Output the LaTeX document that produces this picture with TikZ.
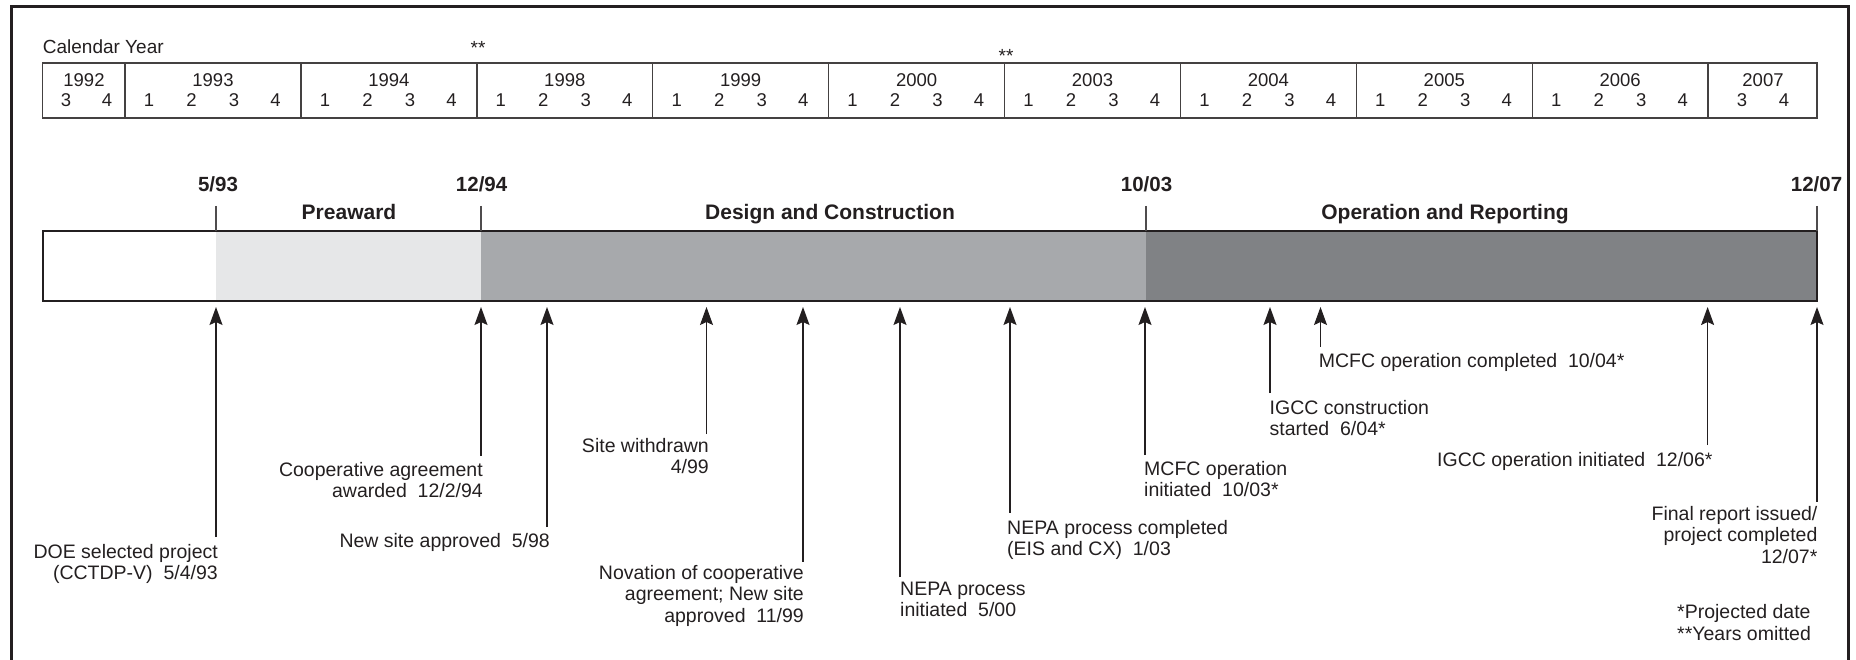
\documentclass[tikz,border=0pt]{standalone}
\usepackage{fontspec}
\setmainfont{Liberation Sans}
\usetikzlibrary{arrows.meta}
\definecolor{prefill}{HTML}{E6E7E8}
\definecolor{dcfill}{HTML}{A7A9AC}
\definecolor{opfill}{HTML}{808285}
\definecolor{ink}{HTML}{231F20}
\newcommand\lblfont{\fontsize{19.5}{21.5}\selectfont}
\newcommand\tabfont{\fontsize{18.5}{20}\selectfont}
\newcommand\astfont{\fontsize{19}{21}\selectfont}
\newcommand\phasefont{\fontsize{21}{24}\selectfont\bfseries}
\newcommand\datefont{\fontsize{20.5}{24}\selectfont\bfseries}
\begin{document}
\begin{tikzpicture}[x=1pt,y=-1pt,
  frameline/.style={line width=3pt, draw=ink},
  tablebox/.style={line width=1.4pt, draw=ink!85},
  tabtxt/.style={font=\tabfont, inner sep=0pt, text=ink},
  asttxt/.style={font=\astfont, inner sep=0pt, text=ink},
  barline/.style={line width=2.2pt, draw=ink},
  tickline/.style={line width=1.2pt, draw=ink!80},
  phase/.style={font=\phasefont, inner sep=0pt, anchor=base, text=ink},
  datelbl/.style={font=\datefont, inner sep=0pt, anchor=base, text=ink},
  lbl/.style={font=\lblfont, inner sep=0pt, text=ink},
  lblR/.style={lbl, align=right, anchor=north east},
  lblL/.style={lbl, align=left, anchor=north west},
  arr/.style={line width=1.2pt, draw=ink, -{Stealth[length=18pt,width=13pt,inset=3pt]}}
]
\useasboundingbox (0,0) rectangle (1856,660);
% outer frame
\draw[frameline] (11,660) -- (11,7) -- (1848,7) -- (1848,660);

% calendar table
\node[tabtxt, anchor=base west, font=\fontsize{19}{21}\selectfont] (cal) at (42.7,54) {Calendar Year};
\node[asttxt, anchor=base] (ast1) at (478,55) {**};
\node[asttxt, anchor=base] (ast2) at (1006,63) {**};
\draw[tablebox] (42.7,63) rectangle (1817,118);
\foreach \k in {0,...,9} \draw[tablebox] ({125+175.9*\k},63) -- ({125+175.9*\k},118);
\foreach \yr [count=\k from 0] in {1993,1994,1998,1999,2000,2003,2004,2005,2006} {
  \node[tabtxt, anchor=base] (yr\yr) at ({125+175.9*\k+88},86.6) {\yr};
  \foreach \q/\dx in {1/24,2/66.5,3/109,4/150.5}
    \node[tabtxt, anchor=base] (q\yr-\q) at ({125+175.9*\k+\dx},106.6) {\q};
}
\node[tabtxt, anchor=base] (yr1992) at (84,86.6) {1992};
\node[tabtxt, anchor=base] (q1992-3) at (66,106.6) {3};
\node[tabtxt, anchor=base] (q1992-4) at (107,106.6) {4};
\node[tabtxt, anchor=base] (yr2007) at (1763,86.6) {2007};
\node[tabtxt, anchor=base] (q2007-3) at (1742,106.6) {3};
\node[tabtxt, anchor=base] (q2007-4) at (1784,106.6) {4};

% phase bar
\fill[white] (42.7,230.7) rectangle (216,300.7);
\fill[prefill] (216,230.7) rectangle (481,300.7);
\fill[dcfill] (481,230.7) rectangle (1146,300.7);
\fill[opfill] (1146,230.7) rectangle (1817,300.7);
\draw[barline] (42.7,230.7) rectangle (1817,300.7);

% milestone ticks and labels
\foreach \x in {216,481,1146,1817} \draw[tickline] (\x,206) -- (\x,230.7);
\node[datelbl] (d593) at (218,192) {5/93};
\node[datelbl] (d1294) at (481.6,192) {12/94};
\node[datelbl] (d1003) at (1146.5,192) {10/03};
\node[datelbl] (d1207) at (1816.5,192) {12/07};
\node[phase] (preaward) at (349,219.5) {Preaward};
\node[phase] (design) at (830,219.5) {Design and Construction};
\node[phase] (operation) at (1445,219.5) {Operation and Reporting};

% event labels
\node[lblR] (e1) at (218,543) {\strut DOE selected project\\(CCTDP-V)~~5/4/93};
\node[lblR] (e2) at (483,461) {\strut Cooperative agreement\\awarded~~12/2/94};
\node[lbl, anchor=base east] (e3) at (550,547) {New site approved~~5/98};
\node[lblR] (e4) at (709,437) {\strut Site withdrawn\\4/99};
\node[lblR] (e5) at (804,564) {\strut Novation of cooperative\\agreement; New site\\approved~~11/99};
\node[lblL] (e6) at (900,580) {\strut NEPA process\\initiated~~5/00};
\node[lblL] (e7) at (1007,519) {\strut NEPA process completed\\(EIS and CX)~~1/03};
\node[lblL] (e8) at (1144,460) {\strut MCFC operation\\initiated~~10/03*};
\node[lblL] (e9) at (1269.5,399) {\strut IGCC construction\\started~~6/04*};
\node[lbl, anchor=base west] (e10) at (1318.6,367) {MCFC operation completed~~10/04*};
\node[lbl, anchor=base east] (e11) at (1712.7,466.7) {IGCC operation initiated~~12/06*};
\node[lblR] (e12) at (1817.6,505) {\strut Final report issued/\\project completed\\12/07*};
\node[lblL] (legend) at (1677,603.3) {\strut *Projected date\\**Years omitted};

% arrows
\foreach \i/\x/\yb in {1/216/537, 2/481/456, 3/547/527, 4/706.5/434, 5/803/561.7,
  6/900/577, 7/1010/512.7, 8/1145/455, 9/1270/393, 10/1320.5/347, 11/1707.6/445, 12/1817/501.7} {
  \coordinate (b\i) at (\x,\yb);
  \coordinate (t\i) at (\x,307);
  \draw[arr] (b\i) -- (t\i);
}
\end{tikzpicture}
\end{document}
